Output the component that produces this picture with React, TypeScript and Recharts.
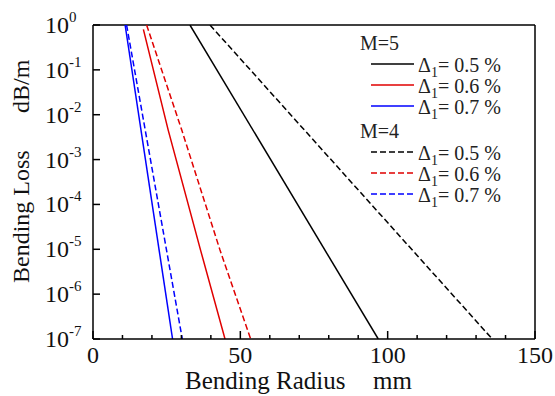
import { LineChart, Line, XAxis, YAxis, ReferenceLine } from "recharts";

const FONT = '"Liberation Serif", "Times New Roman", serif';

// axis ticks
const xTicks = [0, 10, 20, 30, 40, 50, 60, 70, 80, 90, 100, 110, 120, 130, 140, 150];
const xLabelled = [0, 50, 100, 150];
const yTicks = [1e-7, 1e-6, 1e-5, 1e-4, 1e-3, 1e-2, 1e-1, 1];

// M=5 (solid)
const m5d05 = [
  { x: 32.9, y: 1 },
  { x: 96.8, y: 1e-7 },
];
const m5d06 = [
  { x: 17.1, y: 0.8 },
  { x: 25.5, y: 4.6e-3 },
  { x: 36.5, y: 9.6e-6 },
  { x: 44.8, y: 1e-7 },
];
const m5d07 = [
  { x: 10.9, y: 1 },
  { x: 27.0, y: 1e-7 },
];

// M=4 (dashed)
const m4d05 = [
  { x: 39.7, y: 1 },
  { x: 135.5, y: 1e-7 },
];
const m4d06 = [
  { x: 18.2, y: 1 },
  { x: 30.1, y: 4.6e-3 },
  { x: 43.1, y: 9.6e-6 },
  { x: 53.5, y: 1e-7 },
];
const m4d07 = [
  { x: 11.4, y: 1 },
  { x: 30.3, y: 1e-7 },
];

const groups = [
  {
    title: "M=5",
    dash: undefined,
    items: [
      { delta: "0.5", color: "#000000", data: m5d05 },
      { delta: "0.6", color: "#e00000", data: m5d06 },
      { delta: "0.7", color: "#0000ff", data: m5d07 },
    ],
  },
  {
    title: "M=4",
    dash: "6 3",
    items: [
      { delta: "0.5", color: "#000000", data: m4d05 },
      { delta: "0.6", color: "#e00000", data: m4d06 },
      { delta: "0.7", color: "#0000ff", data: m4d07 },
    ],
  },
];

function YTick({ x, y, payload }: any) {
  const exp = Math.round(Math.log10(payload.value));
  return (
    <g>
      <line x1={x} x2={x + 7} y1={y} y2={y} stroke="#000" strokeWidth={1.5} />
      <text x={x - 48} y={y + 8} fontSize={24} fill="#111" fontFamily={FONT}>
        10
        <tspan dy={-11} fontSize={15}>
          {exp === 0 ? "0" : `-${-exp}`}
        </tspan>
      </text>
    </g>
  );
}

function XTick({ x, y, payload }: any) {
  const major = xLabelled.includes(payload.value);
  return (
    <g>
      <line x1={x} x2={x} y1={y} y2={y - (major ? 8 : 4)} stroke="#000" strokeWidth={1.5} />
      {major && (
        <text x={x} y={y + 24} textAnchor="middle" fontSize={24} fill="#111" fontFamily={FONT}>
          {payload.value}
        </text>
      )}
    </g>
  );
}

function Overlay() {
  const rows: any[] = [];
  let base = 50;
  groups.forEach((g, gi) => {
    rows.push(
      <text key={`t${gi}`} x={360} y={base} fontSize={20} fill="#222" fontFamily={FONT}>
        {g.title}
      </text>
    );
    g.items.forEach((it, i) => {
      const ly = base + 14 + i * 21;
      rows.push(
        <g key={`r${gi}${i}`}>
          <line x1={371} x2={414} y1={ly} y2={ly} stroke={it.color} strokeWidth={1.5} strokeDasharray={g.dash} />
          <text x={418} y={ly + 8} fontSize={20} fill="#222" fontFamily={FONT}>
            Δ<tspan dy={5} fontSize={14}>1</tspan>
            <tspan dy={-5}>{`= ${it.delta} %`}</tspan>
          </text>
        </g>
      );
    });
    base += 88;
  });
  return (
    <svg
      width={555}
      height={396}
      style={{ position: "absolute", left: 0, top: 0, pointerEvents: "none" }}
    >
      {rows}
      <text transform="translate(29,283) rotate(-90)" fontSize={24} fill="#111" fontFamily={FONT}>
        Bending Loss
        <tspan x={170}>dB/m</tspan>
      </text>
      <text x={185} y={389} fontSize={25} fill="#111" fontFamily={FONT}>
        Bending Radius
        <tspan x={373}>mm</tspan>
      </text>
    </svg>
  );
}

export default function App() {
  return (
    <div style={{ position: "absolute", left: 0, top: 0, width: 555, height: 396, background: "#fff" }}>
      <LineChart width={555} height={396} margin={{ top: 25, right: 20, bottom: 0, left: 0 }}>
        <XAxis
          type="number"
          dataKey="x"
          domain={[0, 150]}
          ticks={xTicks}
          interval={0}
          height={57}
          tickSize={0}
          tickMargin={0}
          tickLine={false}
          tick={<XTick />}
          axisLine={{ stroke: "#000", strokeWidth: 1.5 }}
          allowDataOverflow
        />
        <YAxis
          type="number"
          dataKey="y"
          scale="log"
          domain={[1e-7, 1]}
          ticks={yTicks}
          interval={0}
          width={93}
          tickSize={0}
          tickMargin={0}
          tickLine={false}
          tick={<YTick />}
          axisLine={{ stroke: "#000", strokeWidth: 1.5 }}
          allowDataOverflow
        />
        <ReferenceLine y={1} stroke="#000" strokeWidth={1.5} />
        <ReferenceLine x={150} stroke="#000" strokeWidth={1.5} />
        {groups.map((g, gi) =>
          g.items.map((it, i) => (
            <Line
              key={`${gi}-${i}`}
              data={it.data}
              dataKey="y"
              type="linear"
              stroke={it.color}
              strokeWidth={1.5}
              strokeDasharray={g.dash}
              dot={false}
              activeDot={false}
              isAnimationActive={false}
            />
          ))
        )}
      </LineChart>
      <Overlay />
    </div>
  );
}
